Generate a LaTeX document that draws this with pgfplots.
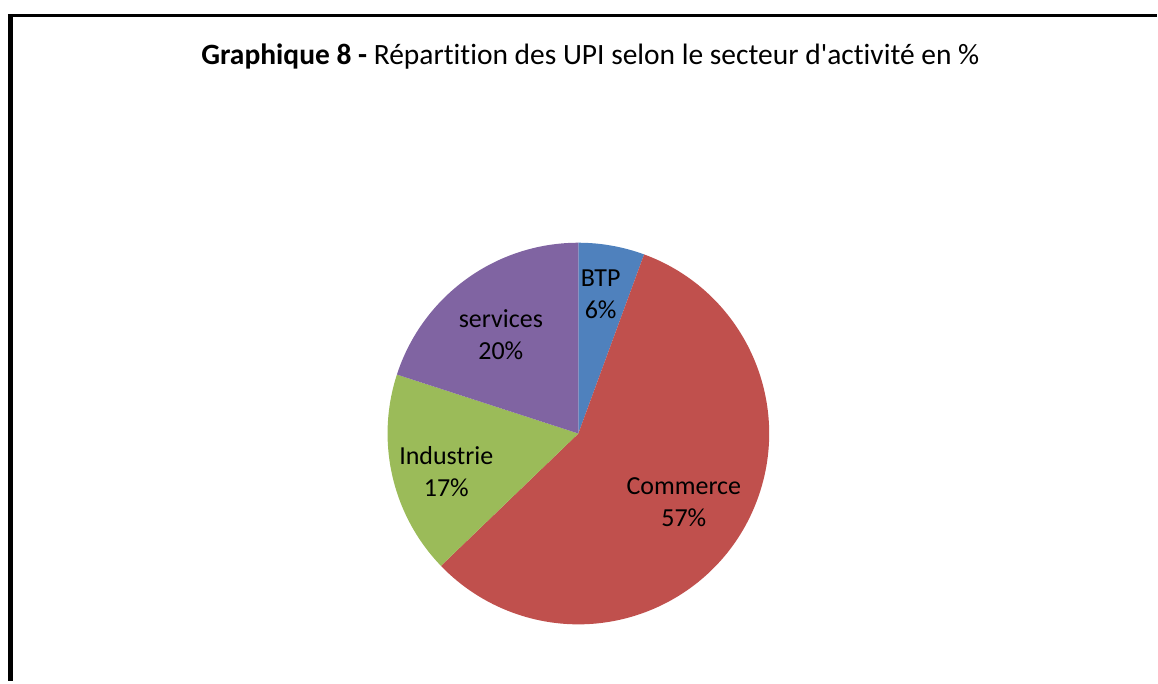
\documentclass[border=0pt]{standalone}
\usepackage{pgfplots}
\pgfplotsset{compat=1.18}
\usepackage{pgfplotstable}
\usepackage{fontspec}
\setmainfont{Carlito}[Ligatures={NoCommon}]

\definecolor{cBTP}{HTML}{4F81BD}
\definecolor{cCom}{HTML}{C0504D}
\definecolor{cInd}{HTML}{9BBB59}
\definecolor{cSer}{HTML}{8064A2}

% parts in %, clockwise from the top; lr = label radius, ld = label angle shift
\pgfplotstableread{
secteur   value  col   lr    ld
BTP       5.6    cBTP  0.74  1
Commerce  57.2   cCom  0.66  0
Industrie 17.2   cInd  0.72  3
services  20.0   cSer  0.66  2
}\piedata

\newcommand\labfont{\fontsize{13bp}{16bp}\selectfont}
\newcommand\titfont{\fontsize{14.75bp}{17bp}\selectfont}

\begin{document}
\begin{tikzpicture}
\begin{axis}[
    x=0.5bp, y=0.5bp,
    xmin=0, xmax=1158, ymin=0, ymax=682,
    hide axis, clip=false,
    ]
  \path (axis cs:0,0) rectangle (axis cs:1158,682);
  % frame
  \draw[line width=1.3bp] (axis cs:8,666.5) -- (axis cs:1158,666.5);
  \draw[line width=2.5bp] (axis cs:10.8,667.7) -- (axis cs:10.8,0);
  % title
  \node[anchor=base, font=\titfont] at (axis cs:591,617.7)
    {\textbf{Graphique 8 -} Répartition des UPI selon le secteur d\textquotesingle activité en \%};
  % slices
  \xdef\curangle{90}
  \pgfplotsinvokeforeach{0,...,3}{
    \pgfplotstablegetelem{#1}{value}\of\piedata \let\val\pgfplotsretval
    \pgfplotstablegetelem{#1}{col}\of\piedata \let\col\pgfplotsretval
    \pgfplotstablegetelem{#1}{secteur}\of\piedata \let\nm\pgfplotsretval
    \pgfplotstablegetelem{#1}{lr}\of\piedata \let\lr\pgfplotsretval
    \pgfplotstablegetelem{#1}{ld}\of\piedata \let\ld\pgfplotsretval
    \pgfmathsetmacro\endangle{\curangle-3.6*\val}
    \pgfmathsetmacro\midangle{(\curangle+\endangle)/2+\ld}
    \pgfmathsetmacro\sx{579+191*cos(\curangle)}
    \pgfmathsetmacro\sy{248+191*sin(\curangle)}
    \pgfmathsetmacro\lx{579+\lr*191*cos(\midangle)}
    \pgfmathsetmacro\ly{248+\lr*191*sin(\midangle)}
    \pgfmathtruncatemacro\pct{round(\val)}
    \edef\temp{%
      \noexpand\fill[\col] (axis cs:579,248) -- (axis cs:\sx,\sy)
        arc[start angle=\curangle, end angle=\endangle, radius=95.5bp] -- cycle;
      \noexpand\node[align=center, font=\noexpand\labfont] at (axis cs:\lx,\ly)
        {\nm\noexpand\\\pct\noexpand\%};
    }
    \temp
    \xdef\curangle{\endangle}
  }
\end{axis}
\end{tikzpicture}
\end{document}
